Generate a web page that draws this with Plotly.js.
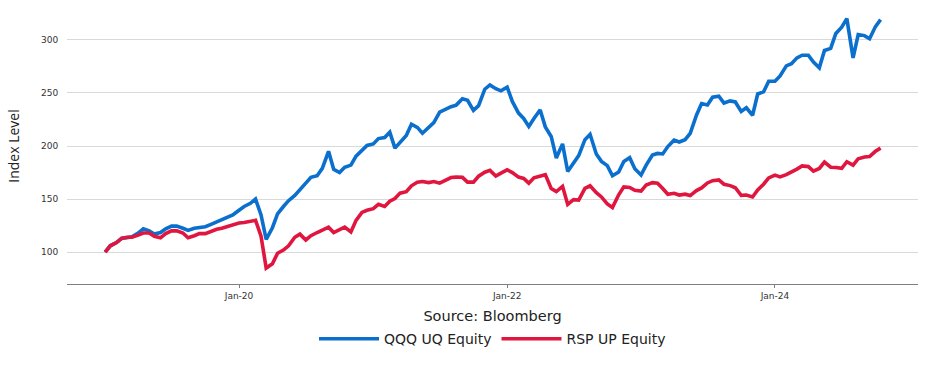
<!DOCTYPE html>
<html>
<head>
<meta charset="utf-8">
<script src="https://cdn.plot.ly/plotly-3.0.1.min.js"></script>
<style>html,body{margin:0;padding:0;background:#fff;}#chart{width:925px;height:370px;}</style>
</head>
<body>
<div id="chart"></div>
<script>
// Semi-monthly observation dates
const dates = [
"2019-01-01","2019-01-15","2019-02-01","2019-02-15","2019-03-01","2019-03-15","2019-04-01","2019-04-15","2019-05-01","2019-05-15","2019-06-01","2019-06-15","2019-07-01","2019-07-15","2019-08-01","2019-08-15","2019-09-01","2019-09-15","2019-10-01","2019-10-15","2019-11-01","2019-11-15","2019-12-01","2019-12-15",
"2020-01-01","2020-01-15","2020-02-01","2020-02-15","2020-03-01","2020-03-15","2020-04-01","2020-04-15","2020-05-01","2020-05-15","2020-06-01","2020-06-15","2020-07-01","2020-07-15","2020-08-01","2020-08-15","2020-09-01","2020-09-15","2020-10-01","2020-10-15","2020-11-01","2020-11-15","2020-12-01","2020-12-15",
"2021-01-01","2021-01-15","2021-02-01","2021-02-15","2021-03-01","2021-03-15","2021-04-01","2021-04-15","2021-05-01","2021-05-15","2021-06-01","2021-06-15","2021-07-01","2021-07-15","2021-08-01","2021-08-15","2021-09-01","2021-09-15","2021-10-01","2021-10-15","2021-11-01","2021-11-15","2021-12-01","2021-12-15",
"2022-01-01","2022-01-15","2022-02-01","2022-02-15","2022-03-01","2022-03-15","2022-04-01","2022-04-15","2022-05-01","2022-05-15","2022-06-01","2022-06-15","2022-07-01","2022-07-15","2022-08-01","2022-08-15","2022-09-01","2022-09-15","2022-10-01","2022-10-15","2022-11-01","2022-11-15","2022-12-01","2022-12-15",
"2023-01-01","2023-01-15","2023-02-01","2023-02-15","2023-03-01","2023-03-15","2023-04-01","2023-04-15","2023-05-01","2023-05-15","2023-06-01","2023-06-15","2023-07-01","2023-07-15","2023-08-01","2023-08-15","2023-09-01","2023-09-15","2023-10-01","2023-10-15","2023-11-01","2023-11-15","2023-12-01","2023-12-15",
"2024-01-01","2024-01-15","2024-02-01","2024-02-15","2024-03-01","2024-03-15","2024-04-01","2024-04-15","2024-05-01","2024-05-15","2024-06-01","2024-06-15","2024-07-01","2024-07-15","2024-08-01","2024-08-15","2024-09-01","2024-09-15","2024-10-01","2024-10-15"
];

const qqq = [
100,106,109,113,113.5,114.5,118,122,120,117,118.5,122,124.5,124.5,122.5,120.5,122.5,123,124,126,128.5,130.5,132.5,135,
139.5,143,146,150,135,112,123,136,143,148.5,153.5,158.5,165,170.5,172,179,195,178,175,180,182,190.5,196,200.5,
202,207,208,213,198,203,210,220.5,217.5,212,217.5,222,232,234.5,237,238.5,244.5,243,233.5,238,253.5,257.5,254,252,
255.5,242,231,226,218.5,226,234,218,209,188.7,202,176,184.5,191,206,211,192.5,185.5,181.5,172,175.5,185.5,189,178.5,
172.6,182,191.5,193,192.5,199.5,205.5,203.8,206,212,229,240,238.7,246,247,240.5,242.5,241.5,232.5,236,229,249,251,261,
261,266,275.5,277.5,283,285.5,285.5,279,273.6,290,292,306,312,320,283,305,304,301,312.5,319
];

const rsp = [
100,106,109,113,114,114,116,118,118,115,113.5,117.5,120,120,118,113.5,115.5,117.5,117.5,119.5,121.5,122.5,124.5,126,
127.5,128,129.5,130,115,85,89,99,102,106,114,117,111.5,115.5,118.5,121,123.5,118.5,121,123.6,119,130,137.5,139.5,
141,145,143,148,150.5,155.6,157,162.5,165.8,166.5,165.5,166.5,165,167.5,170.3,170.7,170.5,166,166,171.5,175.3,177,171.7,174.5,
177.5,175,170.7,169.5,165,170,171.3,173,160,157,162,145,149.5,149,160,162.5,156,152,145.5,142,154,161.5,161,158.3,
157.5,163.3,165.5,165,160,154.5,155.5,153.8,154.6,153.3,158,160.5,165.2,167.3,168,164,162.7,160.7,153.5,153.8,152,158.5,164,170,
172.6,170.9,173,175.3,178.2,181.2,180.6,176.3,178.8,184.8,180,179.8,179,185.2,182,188,189.6,190,195,198
];

const seriesNames = ["QQQ UQ Equity", "RSP UP Equity"];
const tickDates = ["2020-01-01", "2022-01-01", "2024-01-01"];
const tickLabels = ["Jan-20", "Jan-22", "Jan-24"];
const yTicks = [100, 150, 200, 250, 300];

const traces = [
  {x: dates, y: qqq, name: seriesNames[0], type: "scatter", mode: "lines",
   line: {color: "#0b6fce", width: 3.6}},
  {x: dates, y: rsp, name: seriesNames[1], type: "scatter", mode: "lines",
   line: {color: "#e0163f", width: 3.6}}
];

const layout = {
  width: 925, height: 370,
  margin: {l: 67, r: 7, t: 8, b: 86},
  paper_bgcolor: "#ffffff", plot_bgcolor: "#ffffff",
  showlegend: true,
  legend: {orientation: "h", x: 0.5, xanchor: "center", y: -0.2, yanchor: "middle",
           font: {family: "DejaVu Sans", size: 14, color: "#222"}, itemwidth: 60, tracegroupgap: 0},
  xaxis: {
    type: "date", range: ["2018-09-19", "2025-01-25"],
    tickvals: tickDates, ticktext: tickLabels,
    showgrid: false, zeroline: false,
    showline: true, linecolor: "#7f7f7f", linewidth: 1,
    ticks: "outside", ticklen: 3, tickcolor: "#7f7f7f",
    tickfont: {family: "DejaVu Sans", size: 9, color: "#333"},
    title: {text: "Source: Bloomberg", standoff: 11, font: {family: "DejaVu Sans", size: 14.5, color: "#222"}}
  },
  yaxis: {
    range: [70, 330], tickvals: yTicks,
    showgrid: true, gridcolor: "#d9d9d9", gridwidth: 1,
    zeroline: false, showline: false,
    ticks: "outside", ticklen: 6, tickcolor: "rgba(0,0,0,0)",
    tickfont: {family: "DejaVu Sans", size: 9, color: "#333"},
    title: {text: "Index Level", standoff: 18, font: {family: "Open Sans", size: 14, color: "#222"}}
  },
  font: {family: "DejaVu Sans"}
};

Plotly.newPlot("chart", traces, layout, {displayModeBar: false, staticPlot: true});
</script>
</body>
</html>
